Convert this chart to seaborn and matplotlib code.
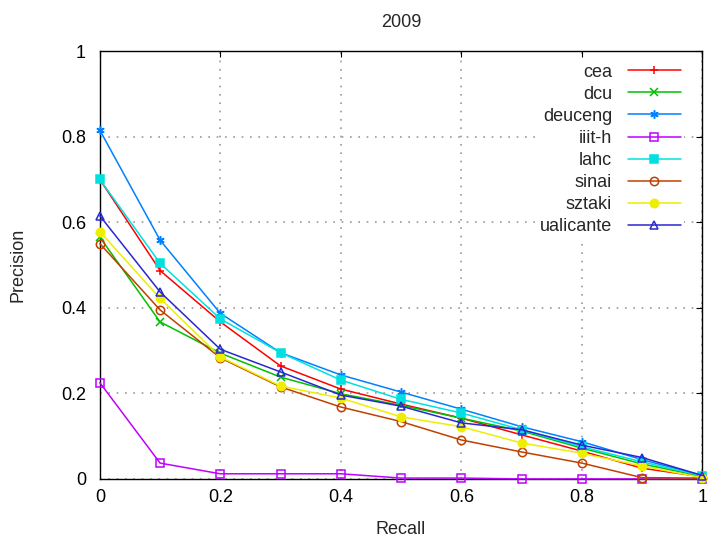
import pandas as pd
import matplotlib.pyplot as plt
import seaborn as sns

# recall levels and interpolated precision per run
recall = [0.0, 0.1, 0.2, 0.3, 0.4, 0.5, 0.6, 0.7, 0.8, 0.9, 1.0]
cea = [0.700, 0.487, 0.367, 0.264, 0.210, 0.175, 0.142, 0.103, 0.065, 0.025, 0.005]
dcu = [0.565, 0.367, 0.294, 0.238, 0.199, 0.172, 0.142, 0.112, 0.072, 0.035, 0.006]
deuceng = [0.815, 0.558, 0.387, 0.295, 0.243, 0.203, 0.163, 0.122, 0.087, 0.045, 0.008]
iiit_h = [0.225, 0.037, 0.012, 0.012, 0.012, 0.002, 0.002, 0.0, 0.0, 0.0, 0.0]
lahc = [0.700, 0.504, 0.374, 0.295, 0.231, 0.186, 0.154, 0.115, 0.075, 0.040, 0.007]
sinai = [0.550, 0.395, 0.283, 0.215, 0.168, 0.134, 0.091, 0.063, 0.037, 0.003, 0.002]
sztaki = [0.578, 0.422, 0.285, 0.217, 0.189, 0.145, 0.122, 0.084, 0.060, 0.030, 0.003]
ualicante = [0.615, 0.437, 0.303, 0.250, 0.196, 0.170, 0.131, 0.115, 0.079, 0.050, 0.008]

runs = ["cea", "dcu", "deuceng", "iiit-h", "lahc", "sinai", "sztaki", "ualicante"]
values = [cea, dcu, deuceng, iiit_h, lahc, sinai, sztaki, ualicante]
colors = ["#ff0000", "#00c000", "#0080ff", "#c000ff", "#00e0e0", "#c04000", "#eeee00", "#2828d0"]
# (marker, filled)
markers = [("+", True), ("x", True), ((6, 2, 0), True), ("s", False),
           ("s", True), ("o", False), ("o", True), ("^", False)]

df = pd.DataFrame({
    "Recall": recall * len(runs),
    "Precision": [v for vals in values for v in vals],
    "run": [r for r in runs for _ in recall],
})

sns.set_style("white")
plt.rcParams["font.family"] = ["Liberation Sans", "DejaVu Sans"]

fig, ax = plt.subplots(figsize=(7.08, 5.43), dpi=100)
fig.subplots_adjust(left=0.141, right=0.992, top=0.906, bottom=0.118)

for run, c, (m, filled) in zip(runs, colors, markers):
    sub = df[df["run"] == run]
    sns.lineplot(data=sub, x="Recall", y="Precision", ax=ax, color=c, lw=1.1,
                 marker=m, markersize=6, mec=c, mew=1.1,
                 mfc=c if filled else "none", label=run, clip_on=False,
                 zorder=3)

ax.set_xlim(0, 1)
ax.set_ylim(0, 1)
ticks = [0, 0.2, 0.4, 0.6, 0.8, 1]
labels = ["0", "0.2", "0.4", "0.6", "0.8", "1"]
ax.set_xticks(ticks, labels)
ax.set_yticks(ticks, labels)
ax.tick_params(direction="in", length=4, width=0.8, top=True, right=True,
               labelsize=13, colors="black")
ax.tick_params(axis="x", pad=7)
ax.tick_params(axis="y", pad=10)
ax.grid(True, ls=(0, (1, 4)), color="#999999", lw=1.2)
for s in ax.spines.values():
    s.set_color("black")
    s.set_linewidth(1.0)

ax.set_xlabel("Recall", fontsize=13, labelpad=11)
ax.set_ylabel("Precision", fontsize=13, labelpad=25)
ax.set_title("2009", fontsize=13, pad=17)

leg = ax.legend(loc="upper right", bbox_to_anchor=(0.985, 1.0),
                markerfirst=False, fontsize=13, handlelength=2.9,
                labelspacing=0.28, handletextpad=0.9, borderpad=0.2,
                frameon=True, facecolor="white", edgecolor="none",
                framealpha=1, fancybox=False)
leg.set_zorder(5)

plt.savefig("out.png", dpi=100)
plt.close()
